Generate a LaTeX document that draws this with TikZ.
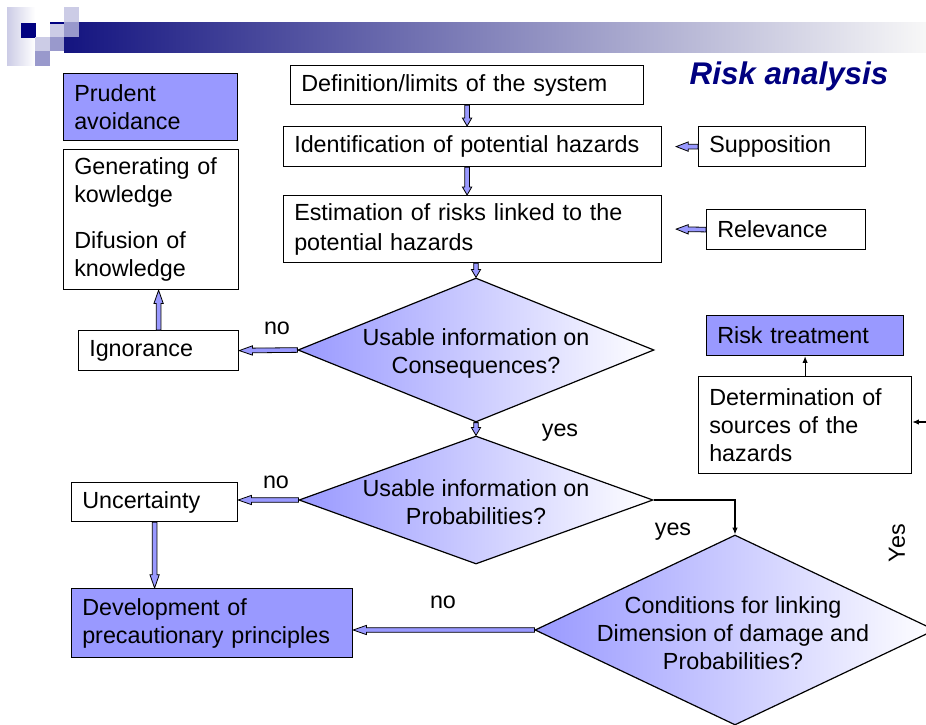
\documentclass[tikz,border=0pt]{standalone}
\usepackage{fontspec}
\setmainfont{Liberation Sans}
\usetikzlibrary{shapes.geometric,arrows.meta,calc}
\definecolor{bfill}{RGB}{153,153,255}
\definecolor{navy}{RGB}{0,0,128}
\definecolor{hlight}{RGB}{204,204,230}
\definecolor{hmed}{RGB}{153,153,204}
\definecolor{barleft}{RGB}{20,20,128}
\newcommand\barrow[3][6pt]{%
  \coordinate (ba) at (#2);
  \coordinate (bb) at (#3);
  \coordinate (bc) at ($(bb)!#1!(ba)$);
  \draw[barr] ($(ba)!1.75pt!90:(bb)$) -- ($(bc)!1.75pt!90:(bb)$) -- ($(bc)!3.5pt!90:(bb)$)
    -- (bb) -- ($(bc)!3.5pt!-90:(bb)$) -- ($(bc)!1.75pt!-90:(bb)$) -- ($(ba)!1.75pt!-90:(bb)$) -- cycle;
}
\begin{document}
\begin{tikzpicture}[x=0.75pt,y=-0.75pt, font=\fontsize{17.5}{21}\selectfont,
  box/.style={draw, line width=0.9pt, inner xsep=8pt, inner ysep=0pt, align=left, anchor=north west},
  dia/.style={diamond, draw, line width=0.9pt, inner sep=0pt, left color=bfill, right color=white},
  lbl/.style={inner sep=0pt},
  barr/.style={draw=black, line width=0.6pt, fill=bfill},
  thinarr/.style={draw, line width=0.8pt, -{Latex[length=5pt,width=4pt]}}
]
\useasboundingbox (0,0) rectangle (926,725);
\clip (0,0) rectangle (926,725);

% header decoration
\fill[left color=hlight, right color=white] (7,7) rectangle (35,65);
\fill[left color=barleft, right color=white!97!black] (64,22) rectangle (926,52);
\fill[navy] (21,23) rectangle (36,38);
\fill[navy] (50,22) rectangle (64,23.5);
\fill[hlight] (50,23.5) rectangle (64,37);
\fill[hlight] (35,37) rectangle (50,51);
\fill[hmed] (35,51) rectangle (50,66);
\fill[hmed] (50,37) rectangle (64,51);
\fill[hlight] (64,7) rectangle (79,22);
\fill[hmed] (64,22) rectangle (79,37);

\node[lbl, text=navy, font=\fontsize{23.5}{27}\selectfont\bfseries\itshape] (title) at (789,76) {Risk analysis};

% boxes
\node[box, fill=bfill, text width=114.5pt, minimum height=50.25pt] (prud) at (63,73) {Prudent\\avoidance};
\node[box, text width=115.25pt, minimum height=105pt] (gen) at (63,149) {Generating of\\kowledge\\[14pt]Difusion of\\knowledge};
\node[box, text width=104pt, minimum height=30pt] (ign) at (78,330) {Ignorance};
\node[box, text width=248.75pt, minimum height=29.25pt] (def) at (290,65) {Definition/limits of the system};
\node[box, text width=267.5pt, minimum height=30pt] (ident) at (283,126) {Identification of potential hazards};
\node[box, text width=109.25pt, minimum height=30pt] (supp) at (698,126) {Supposition};
\node[box, text width=267.5pt, minimum height=50.25pt, font=\fontsize{17.5}{22.5}\selectfont] (estim) at (283,195) {Estimation of risks linked to the\\potential hazards};
\node[box, text width=103.25pt, minimum height=30pt] (relev) at (706,209) {Relevance};
\node[box, fill=bfill, text width=131.75pt, minimum height=30pt] (riskt) at (706,315) {Risk treatment};
\node[box, text width=143.75pt, minimum height=72.75pt] (determ) at (698,376) {Determination of\\sources of the\\hazards};
\node[box, text width=108.5pt, minimum height=29.25pt] (unc) at (71,482) {Uncertainty};
\node[box, fill=bfill, text width=194.75pt, minimum height=51.75pt] (dev) at (71,588) {Development of\\precautionary principles};

% diamonds
\node[dia, minimum width=267pt, minimum height=108pt] (d1) at (476,350) {};
\node[lbl, align=center] (d1t) at (476,353) {Usable information on\\Consequences?};
\node[dia, minimum width=265.5pt, minimum height=96pt] (d2) at (476,500) {};
\node[lbl, align=center] (d2t) at (476,502) {Usable information on\\Probabilities?};
\node[dia, minimum width=300pt, minimum height=142.5pt] (d3) at (735,630) {};
\node[lbl, align=center] (d3t) at (733,633) {Conditions for linking\\Dimension of damage and\\Probabilities?};

% labels
\node[lbl] (no1) at (277,328) {no};
\node[lbl] (no2) at (276,482) {no};
\node[lbl] (no3) at (443,602) {no};
\node[lbl] (yes1) at (560,433) {yes};
\node[lbl] (yes2) at (673,532) {yes};
\node[lbl, rotate=90] (yes3) at (897,543) {Yes};

% block arrows
\barrow{def.south}{def.south |- ident.north}
\barrow{def.south |- ident.south}{def.south |- estim.north}
\barrow{d1.north |- estim.south}{d1.north}
\barrow[9pt]{supp.west}{$(ident.east)+(14,0)$}
\barrow[9pt]{relev.west}{$(estim.east)+(14,0)$}
\barrow[10pt]{d1.west}{ign.east}
\barrow[10pt]{ign.north}{ign.north |- gen.south}
\barrow{d1.south}{d2.north}
\barrow[10pt]{d2.west}{d2.west -| unc.east}
\barrow[10pt]{unc.south}{unc.south |- dev.north}
\barrow[10pt]{d3.west}{d3.west -| dev.east}

% thin arrows
\coordinate (rin) at (926,422);
\draw[thinarr] (riskt.south |- determ.north) -- (riskt.south);
\draw[thinarr] (rin) -- (rin -| determ.east);
\draw[thinarr] (d2.east) -| (d3.north);
\end{tikzpicture}
\end{document}
